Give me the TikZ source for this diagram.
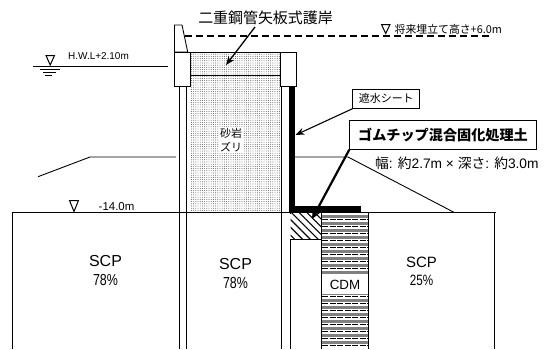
\documentclass[tikz,border=0pt]{standalone}
\usepackage{fontspec}
\setmainfont{Liberation Sans}
\newfontfamily\cjk{Noto Sans CJK JP}
\usetikzlibrary{patterns.meta,arrows.meta}
\tikzset{
  wall/.style={draw=black,line width=.85pt},
  hair/.style={draw=black,line width=.8pt},
  soil/.style={draw=black,line width=.9pt},
  lab/.style={inner sep=0pt,align=center},
  pointer/.style={draw=black,line width=1.1pt,-{Stealth[length=9pt,width=7pt]}},
  tag/.style={draw=black,line width=1pt,fill=white,inner sep=0pt,anchor=center},
  wl/.style={draw=black,line width=1pt,fill=white},
}
\newcommand{\cond}[2]{\scalebox{#1}[1]{#2}}
\begin{document}
\begin{tikzpicture}[x=1bp,y=-1bp]
\useasboundingbox (0,0) rectangle (546,349);
% fill
\fill[pattern={Dots[distance=2.2bp,radius=.45bp]},pattern color=black!75] (190.5,52) rectangle (280,212);
\draw[hair] (190.5,75.5) -- (280,75.5);
\draw[hair] (190.5,52) -- (280,52);
% wall pipes
\draw[wall] (179,86.5) -- (179,349);
\draw[draw=black,line width=1.4pt] (186.5,86.5) -- (186.5,349);
\draw[wall] (281.5,86.5) -- (281.5,349);
\draw[wall] (290,212) -- (290,349);
% soil
\draw[soil] (12.5,349) -- (12.5,212.7) -- (47,212.7);
\draw[draw=black,line width=1.4pt] (47,212.7) -- (496,212.7);
\draw[soil] (494.5,212.7) -- (494.5,349);
\draw[soil] (321.3,239.5) -- (321.3,349);
\draw[soil] (368.7,213) -- (368.7,349);
% slopes
\draw[soil] (38,176.7) -- (90,157) -- (176,157);
\draw[soil] (295,157) -- (348,157) -- (454.7,212.7);
% caps
\draw[wall,fill=white] (174.5,52) -- (174.5,25) -- (182,25) -- (187.7,52) -- cycle;
\draw[wall,fill=white] (174.5,52) rectangle (190.5,86.5);
\draw[wall,fill=white] (280,52) rectangle (296.3,86.5);
% future level
\draw[draw=black,line width=1.4pt,dash pattern=on 7bp off 4bp] (185,36) -- (491,36);
\node[lab,anchor=west,font=\cjk\fontsize{10.9}{11}\selectfont] (fut) at (394.5,29) {将来埋立て高さ+6.0m};
\draw[wl] (381.5,24.5) -- (390,24.5) -- (385.7,33.5) -- cycle;
% HWL
\draw[hair] (33,66) -- (168,66);
\draw[wl] (46,55.5) -- (54.5,55.5) -- (50.2,65) -- cycle;
\draw[hair] (40,69.5) -- (60,69.5) (43,72.5) -- (56,72.5) (45,75.5) -- (52,75.5);
\node[lab,anchor=west,font=\fontsize{10}{11}\selectfont] (hwl) at (68,56) {H.W.L+2.10m};
% -14
\draw[wl] (69.5,200.5) -- (78.5,200.5) -- (74,211.5) -- cycle;
\node[lab,anchor=west,font=\fontsize{11.5}{12}\selectfont] (lev) at (98.5,206.5) {-14.0m};
% sheet
\fill[black] (289,87) rectangle (294.6,213);
\fill[black] (289,206) rectangle (360.5,213);
% hatch
\fill[white] (290,213.5) rectangle (321,239.5);
\fill[pattern={Lines[angle=-45,distance=5.5bp,line width=1.1bp]},pattern color=black] (290.5,213.5) rectangle (321,239.5);
\draw[hair] (290,239.5) -- (321.3,239.5);
\draw[hair] (321.3,213) -- (321.3,240);
% CDM
\foreach \y in {216,223,...,347}{
  \draw[draw=black!50,line width=3bp] (322,\y) -- (368,\y);
  \draw[draw=black,line width=.9bp,dash pattern=on 6bp off 1.5bp] (322,\y+3.1) -- (368,\y+3.1);
}
\node[fill=white,minimum width=46bp,minimum height=19bp,inner sep=0pt,font=\fontsize{13.4}{15}\selectfont] (cdm) at (345,284.5) {CDM};
% tags
\node[tag,minimum width=67bp,minimum height=19bp,font=\cjk\fontsize{11}{12}\selectfont] (sheet) at (386.3,98.8) {遮水シート};
\node[tag,minimum width=186.5bp,minimum height=28.5bp,font=\cjk\bfseries\fontsize{14.2}{16}\selectfont] (rub) at (443,135) {ゴムチップ混合固化処理土};
\coordinate (sheetpt) at (295.5,135);
\coordinate (rubpt) at (312,219);
\draw[pointer] (sheet.south west) -- (sheetpt);
\draw[draw=black,line width=2.2pt,-{Stealth[length=9pt,width=8pt]}] (rub.south west) -- (rubpt);
\node[lab,anchor=west,font=\fontsize{13.8}{14}\selectfont] (dim) at (375,163) {{\cjk 幅}: {\cjk 約}2.7m × {\cjk 深さ}: {\cjk 約}3.0m};
% title
\node[lab,font=\cjk\fontsize{15}{16}\selectfont] (title) at (265.5,18) {二重鋼管矢板式護岸};
\coordinate (titlept) at (226,65);
\coordinate (titlest) at (255,27);
\draw[pointer,line width=1.3pt] (titlest) -- (titlept);
% labels
\node[fill=white,inner sep=1pt,align=center,font=\cjk\fontsize{11}{13.5}\selectfont] (fillab) at (231,140) {砂岩\\ズリ};
\node[lab,font=\fontsize{16}{20}\selectfont] (s1) at (105.5,270.5) {SCP\\\cond{.78}{78\%}};
\node[lab,font=\fontsize{16}{20}\selectfont] (s2) at (235.5,273.5) {SCP\\\cond{.78}{78\%}};
\node[lab,font=\fontsize{15}{18.5}\selectfont] (s3) at (421.5,271.5) {SCP\\\cond{.78}{25\%}};
\end{tikzpicture}
\end{document}
